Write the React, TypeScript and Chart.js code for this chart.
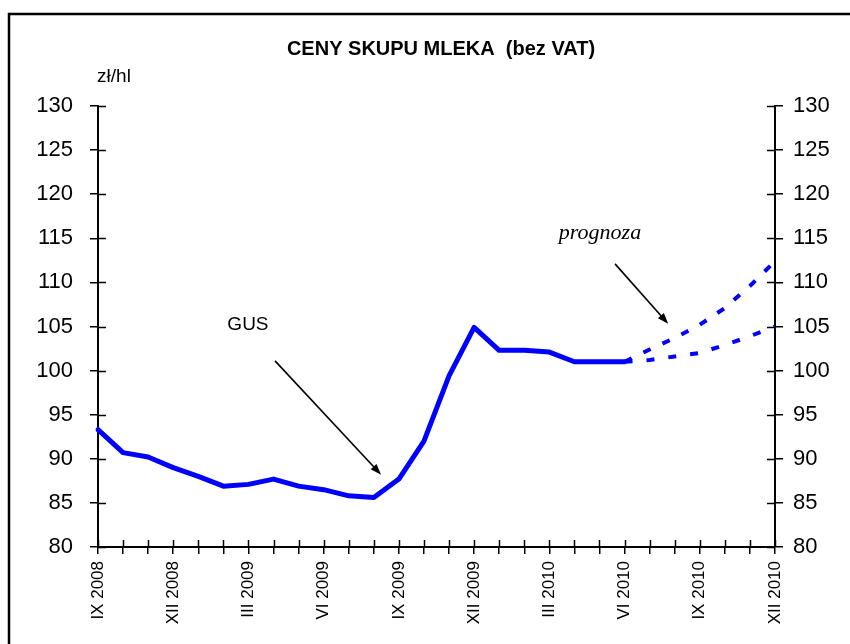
import React, { useEffect, useRef } from 'react';
import { Chart, registerables } from 'chart.js';

Chart.register(...registerables);

// ---- data ----
const categories = [
  'IX 2008', 'X 2008', 'XI 2008', 'XII 2008',
  'I 2009', 'II 2009', 'III 2009', 'IV 2009', 'V 2009', 'VI 2009',
  'VII 2009', 'VIII 2009', 'IX 2009', 'X 2009', 'XI 2009', 'XII 2009',
  'I 2010', 'II 2010', 'III 2010', 'IV 2010', 'V 2010', 'VI 2010',
  'VII 2010', 'VIII 2010', 'IX 2010', 'X 2010', 'XI 2010', 'XII 2010',
];
const labelEvery = 3;

// GUS prices IX 2008 .. VI 2010 (zł/hl)
const gusValues = [
  93.3, 90.7, 90.2, 89.0, 88.0, 86.9, 87.1, 87.7, 86.9, 86.5, 85.8, 85.6,
  87.7, 92.0, 99.4, 104.9, 102.3, 102.3, 102.1, 101.0, 101.0, 101.0,
];
// forecasts VI 2010 .. XII 2010
const forecastStartIndex = 21;
const forecastHigh = [101.0, 102.4, 103.7, 105.2, 107.1, 109.6, 112.4];
const forecastLow = [101.0, 101.2, 101.6, 102.0, 102.9, 103.9, 105.0];

const yMin = 80;
const yMax = 130;
const yStep = 5;

const titleText = 'CENY SKUPU MLEKA  (bez VAT)';
const unitText = 'zł/hl';

// annotations in data coordinates: [category index, value]
const annotations = [
  { text: 'GUS', font: '19px "Liberation Sans", Arial, sans-serif', textAt: [5.98, 104.6], from: [7.06, 101.1], to: [11.29, 88.2] },
  { text: 'prognoza', font: 'italic 22px "Liberation Serif", "Times New Roman", serif', textAt: [20.02, 114.9], from: [20.62, 112.1], to: [22.74, 105.3] },
];

const SANS = '"Liberation Sans", Arial, sans-serif';

const padBefore = (arr: number[], n: number) => [...Array(n).fill(null), ...arr];
const padAfter = (arr: number[], total: number) => [...arr, ...Array(total - arr.length).fill(null)];

const decorPlugin = {
  id: 'decor',
  afterDraw(chart: any) {
    const ctx = chart.ctx;
    const xs = chart.scales.x;
    const yl = chart.scales.y;
    const yr = chart.scales.y2;
    ctx.save();
    // outer frame
    ctx.strokeStyle = '#000';
    ctx.lineWidth = 2.5;
    ctx.strokeRect(9, 14, 900, 700);

    // inner tick halves (ticks cross the axes)
    ctx.lineWidth = 1.5;
    ctx.beginPath();
    xs.ticks.forEach((_: any, i: number) => {
      const px = Math.round(xs.getPixelForTick(i)) + 0.5;
      ctx.moveTo(px, xs.top);
      ctx.lineTo(px, xs.top - 7);
    });
    yl.ticks.forEach((_: any, i: number) => {
      const py = Math.round(yl.getPixelForTick(i)) + 0.5;
      ctx.moveTo(yl.right, py);
      ctx.lineTo(yl.right + 8, py);
    });
    yr.ticks.forEach((_: any, i: number) => {
      const py = Math.round(yr.getPixelForTick(i)) + 0.5;
      ctx.moveTo(yr.left, py);
      ctx.lineTo(yr.left - 8, py);
    });
    ctx.stroke();

    // title
    ctx.fillStyle = '#000';
    ctx.font = `bold 20px ${SANS}`;
    ctx.textAlign = 'center';
    ctx.textBaseline = 'alphabetic';
    ctx.fillText(titleText, 441, 55);

    // unit
    ctx.font = `19px ${SANS}`;
    ctx.textAlign = 'center';
    ctx.fillText(unitText, yl.right + 16, chart.chartArea.top - 24);

    // annotations with arrows
    annotations.forEach((a) => {
      const tx = xs.getPixelForValue(a.textAt[0]);
      const ty = yl.getPixelForValue(a.textAt[1]);
      ctx.font = a.font;
      ctx.textAlign = 'center';
      ctx.fillText(a.text, tx, ty);
      const x1 = xs.getPixelForValue(a.from[0]);
      const y1 = yl.getPixelForValue(a.from[1]);
      const x2 = xs.getPixelForValue(a.to[0]);
      const y2 = yl.getPixelForValue(a.to[1]);
      const ang = Math.atan2(y2 - y1, x2 - x1);
      const headLen = 11;
      const headW = 4;
      ctx.lineWidth = 1.6;
      ctx.beginPath();
      ctx.moveTo(x1, y1);
      ctx.lineTo(x2 - headLen * 0.8 * Math.cos(ang), y2 - headLen * 0.8 * Math.sin(ang));
      ctx.stroke();
      ctx.beginPath();
      ctx.moveTo(x2, y2);
      ctx.lineTo(x2 - headLen * Math.cos(ang) + headW * Math.sin(ang), y2 - headLen * Math.sin(ang) - headW * Math.cos(ang));
      ctx.lineTo(x2 - headLen * Math.cos(ang) - headW * Math.sin(ang), y2 - headLen * Math.sin(ang) + headW * Math.cos(ang));
      ctx.closePath();
      ctx.fill();
    });
    ctx.restore();
  },
};

export default function App() {
  const ref = useRef<HTMLCanvasElement | null>(null);

  useEffect(() => {
    if (!ref.current) return;
    const total = categories.length;
    const chart = new Chart(ref.current, {
      type: 'line',
      data: {
        labels: categories,
        datasets: [
          {
            label: 'GUS',
            data: padAfter(gusValues, total),
            borderColor: '#0000FF',
            borderWidth: 5,
            pointRadius: 0,
            tension: 0,
            borderJoinStyle: 'round',
            borderCapStyle: 'round',
            spanGaps: false,
          },
          {
            label: 'prognoza 1',
            data: padBefore(forecastHigh, forecastStartIndex),
            borderColor: '#0000FF',
            borderWidth: 4,
            borderDash: [8, 13],
            pointRadius: 0,
            tension: 0,
          },
          {
            label: 'prognoza 2',
            data: padBefore(forecastLow, forecastStartIndex),
            borderColor: '#0000FF',
            borderWidth: 4,
            borderDash: [8, 14],
            pointRadius: 0,
            tension: 0,
          },
        ],
      },
      options: {
        responsive: false,
        animation: false,
        events: [],
        layout: { padding: { top: 106, left: 0, right: 0, bottom: 0 } },
        plugins: {
          legend: { display: false },
          title: { display: false },
          tooltip: { enabled: false },
        },
        scales: {
          x: {
            type: 'category',
            offset: false,
            afterFit: (s: any) => { s.height = 97; },
            grid: { drawOnChartArea: false, drawTicks: true, tickLength: 7, color: '#000', lineWidth: 1.5 },
            border: { display: true, color: '#000', width: 2 },
            ticks: {
              autoSkip: false,
              minRotation: 90,
              maxRotation: 90,
              padding: 7,
              color: '#000',
              font: { family: SANS, size: 17 },
              callback: (_v: any, i: number) => (i % labelEvery === 0 ? categories[i] : ''),
            },
          },
          y: {
            position: 'left',
            min: yMin,
            max: yMax,
            afterFit: (s: any) => { s.width = 98; },
            grid: { drawOnChartArea: false, drawTicks: true, tickLength: 8, color: '#000', lineWidth: 1.5 },
            border: { display: true, color: '#000', width: 2 },
            ticks: { stepSize: yStep, padding: 17, color: '#000', font: { family: SANS, size: 22 } },
          },
          y2: {
            position: 'right',
            min: yMin,
            max: yMax,
            afterFit: (s: any) => { s.width = 75; },
            grid: { drawOnChartArea: false, drawTicks: true, tickLength: 8, color: '#000', lineWidth: 1.5 },
            border: { display: true, color: '#000', width: 2 },
            ticks: { stepSize: yStep, padding: 10, color: '#000', font: { family: SANS, size: 22 } },
          },
        },
      },
      plugins: [decorPlugin],
    } as any);
    return () => chart.destroy();
  }, []);

  return (
    <div style={{ position: 'absolute', left: 0, top: 0, width: 850, height: 644, background: '#fff' }}>
      <canvas ref={ref} width={850} height={644} style={{ display: 'block' }} />
    </div>
  );
}
